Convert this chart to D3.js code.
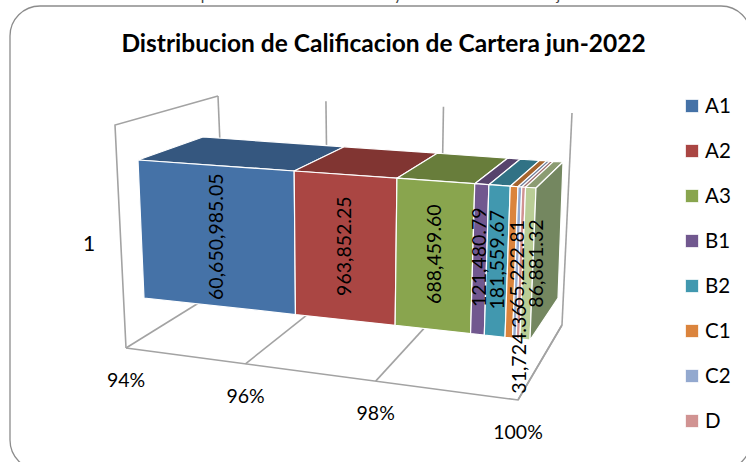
<!DOCTYPE html>
<html>
<head>
<meta charset="utf-8">
<script src="https://cdn.jsdelivr.net/npm/d3@7"></script>
<style>
html, body { margin: 0; padding: 0; background: #fff; }
svg { display: block; }
text { font-family: Lato, "Open Sans", sans-serif; fill: #000; }
</style>
</head>
<body>
<script>
var w = 746;
var h = 462;

// data
var categories = ['A1', 'A2', 'A3', 'B1', 'B2', 'C1', 'C2', 'D', 'E'];
var values = [60650985.05, 963852.25, 688459.60, 121480.79, 181559.67, 65222.81, 31724.36, 31724.36, 86881.32];
var labels = ['60,650,985.05', '963,852.25', '688,459.60', '121,480.79', '181,559.67', '65,222.81', '31,724.36', '', '86,881.32'];
var colors = ['#4572a7', '#aa4643', '#89a54e', '#71588f', '#4198af', '#db843d', '#93a9cf', '#d19392', '#b9cd96'];
var topColors = ['#35577f', '#813532', '#687d3b', '#56436c', '#317285', '#a6642e', '#70809d', '#9f706f', '#8c9c72'];
var legendItems = ['A1', 'A2', 'A3', 'B1', 'B2', 'C1', 'C2', 'D'];
var axisTicks = [94, 96, 98, 100];
var rowLabel = '1';

// the box sits in a perspective view, right side closer to the camera
var total = d3.sum(values);
var pct = d3.scaleLinear().domain([94, 100]).range([0, 1]);
var persp = function(p) {
	var t = pct(p);
	return t / (t + 1.14 * (1 - t));
};

var barBox = {
	ftl: [138, 160], ftr: [536, 188], fbl: [144, 298], fbr: [530, 340],
	btl: [203, 137], btr: [563, 162], bbr: [558, 298], bbl: [208, 270]
};
var wallBox = {
	ftl: [115, 125], ftr: [528, 170], fbl: [126, 348], fbr: [518, 400],
	btl: [218, 96], btr: [572, 113], bbl: [226, 286], bbr: [562, 325]
};

function mix(a, b, f) {
	return [a[0] + (b[0] - a[0]) * f, a[1] + (b[1] - a[1]) * f];
}
// p: percent on the axis, up: 0 floor..1 top, depth: 0 front..1 back
function project(box, p, up, depth) {
	var f = persp(p);
	var front = mix(mix(box.fbl, box.fbr, f), mix(box.ftl, box.ftr, f), up);
	var back = mix(mix(box.bbl, box.bbr, f), mix(box.btl, box.btr, f), up);
	return mix(front, back, depth);
}

var svg = d3.select('body')
	.append('svg')
	.attr('width', w)
	.attr('height', h);

// cropped line of the page above the chart
svg.append('text')
	.attr('x', 372)
	.attr('y', 0)
	.attr('text-anchor', 'middle')
	.style('font-size', '15.5px')
	.style('fill', '#444')
	.text('Distribución por calificación de la cartera y calidad de la cartera a junio 2022');

svg.append('rect')
	.attr('x', 10)
	.attr('y', 6)
	.attr('width', 741)
	.attr('height', 464)
	.attr('rx', 30)
	.attr('ry', 30)
	.attr('fill', '#fff')
	.attr('stroke', '#8c8c8c')
	.attr('stroke-width', 1.3);

svg.append('text')
	.attr('x', 383.5)
	.attr('y', 52)
	.attr('text-anchor', 'middle')
	.style('font-size', '24.5px')
	.style('font-weight', 700)
	.text('Distribucion de Calificacion de Cartera jun-2022');

// walls and floor
var line = d3.line();
var wallStyle = function(sel) {
	return sel.attr('fill', 'none').attr('stroke', '#a3a3a3').attr('stroke-width', 1.6);
};
wallStyle(svg.append('path')).attr('d', line([
	project(wallBox, 94, 0, 0), project(wallBox, 100, 0, 0), project(wallBox, 100, 0, 1)
]));
wallStyle(svg.append('path')).attr('d', line([
	project(wallBox, 94, 0, 0), project(wallBox, 94, 1, 0), project(wallBox, 94, 1, 1)
]));
axisTicks.forEach(function(d) {
	wallStyle(svg.append('path')).attr('d', line([project(wallBox, d, 0, 0), project(wallBox, d, 0, 1)]));
	wallStyle(svg.append('path')).attr('d', line([project(wallBox, d, 0, 1), project(wallBox, d, 1, 1)]));
});

// stacked slices, share of the total sets the position on the 94-100 axis
var stack = values.map(function(v, i) {
	return {
		name: categories[i],
		i: i,
		from: Math.max(94, d3.sum(values.slice(0, i)) / total * 100),
		to: d3.sum(values.slice(0, i + 1)) / total * 100
	};
});

var poly = function(pts) { return line(pts) + 'Z'; };

svg.selectAll('path.top')
	.data(stack)
	.enter()
	.append('path')
	.attr('class', 'top')
	.attr('d', function(d) {
		return poly([project(barBox, d.from, 1, 0), project(barBox, d.to, 1, 0), project(barBox, d.to, 1, 1), project(barBox, d.from, 1, 1)]);
	})
	.attr('fill', function(d) { return topColors[d.i]; })
	.attr('stroke', '#fff')
	.attr('stroke-width', 1.2);

svg.selectAll('path.front')
	.data(stack)
	.enter()
	.append('path')
	.attr('class', 'front')
	.attr('d', function(d) {
		return poly([project(barBox, d.from, 1, 0), project(barBox, d.to, 1, 0), project(barBox, d.to, 0, 0), project(barBox, d.from, 0, 0)]);
	})
	.attr('fill', function(d) { return colors[d.i]; })
	.attr('stroke', '#fff')
	.attr('stroke-width', 1.2);

svg.append('path')
	.attr('d', poly([project(barBox, 100, 1, 0), project(barBox, 100, 1, 1), project(barBox, 100, 0, 1), project(barBox, 100, 0, 0)]))
	.attr('fill', '#748760')
	.attr('stroke', '#fff')
	.attr('stroke-width', 1.2);

// value labels, nudged where the thin slices make them collide
var labelSpots = {
	'A1': { dx: 0, dy: 1 }, 'A2': { dx: 0, dy: -1 }, 'A3': { dx: 0, dy: -1 }, 'B1': { dx: 0, dy: -2 },
	'B2': { dx: 0, dy: -1 }, 'C1': { dx: 6, dy: 2 }, 'C2': { dx: 2, dy: 87 }, 'E': { dx: 8, dy: 0 }
};
svg.selectAll('text.value')
	.data(stack.filter(function(d) { return labels[d.i] !== ''; }))
	.enter()
	.append('text')
	.attr('class', 'value')
	.attr('transform', function(d) {
		var c = project(barBox, (d.from + d.to) / 2, 0.5, 0);
		var s = labelSpots[d.name];
		return 'translate(' + (c[0] + s.dx) + ',' + (c[1] + s.dy) + ') rotate(-90)';
	})
	.attr('text-anchor', 'middle')
	.attr('dy', '0.35em')
	.style('font-size', '19.5px')
	.text(function(d) { return labels[d.i]; });

// axis tick labels
svg.selectAll('text.tick')
	.data(axisTicks)
	.enter()
	.append('text')
	.attr('class', 'tick')
	.attr('x', function(d) { return project(wallBox, d, 0, 0)[0]; })
	.attr('y', function(d) { return project(wallBox, d, 0, 0)[1] + 39; })
	.attr('text-anchor', 'middle')
	.style('font-size', '19.5px')
	.text(function(d) { return d + '%'; });

svg.append('text')
	.attr('x', 89)
	.attr('y', 251)
	.attr('text-anchor', 'middle')
	.style('font-size', '21px')
	.text(rowLabel);

// legend
var legendY = d3.scalePoint().domain(legendItems).range([106, 421]);
var legend = svg.selectAll('g.legend')
	.data(legendItems)
	.enter()
	.append('g')
	.attr('class', 'legend')
	.attr('transform', function(d) { return 'translate(686,' + legendY(d) + ')'; });
legend.append('rect')
	.attr('x', 0)
	.attr('y', -6)
	.attr('width', 12)
	.attr('height', 12)
	.attr('fill', function(d, i) { return colors[i]; })
	.attr('stroke', function(d, i) { return colors[i]; })
	.attr('stroke-opacity', 0.3);
legend.append('text')
	.attr('x', 19)
	.attr('y', 7)
	.style('font-size', '20.5px')
	.text(function(d) { return d; });
</script>
</body>
</html>
